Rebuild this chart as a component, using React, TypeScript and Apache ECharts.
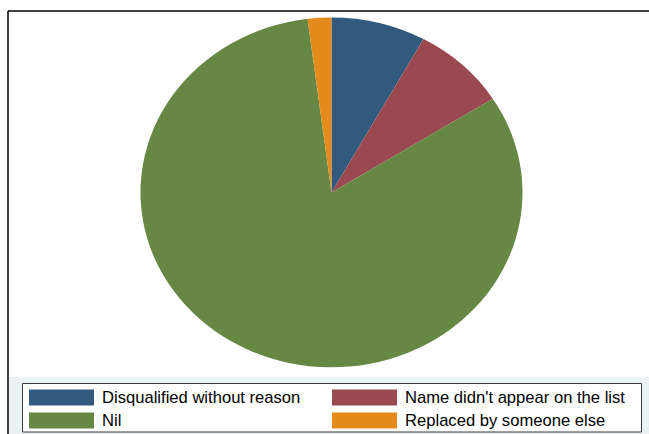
import React, { useEffect, useRef } from "react";
import * as echarts from "echarts";

const categories = [
  "Disqualified without reason",
  "Name didn't appear on the list",
  "Nil",
  "Replaced by someone else",
];
const values = [8, 8, 82, 2];
const colors = ["#315a7e", "#9a4950", "#678844", "#e58b1c"];

const CX = 331.5;
const CY = 192.4;
const RX = 191;
const RY = 175;

export default function App() {
  const ref = useRef<HTMLDivElement>(null);
  useEffect(() => {
    const chart = echarts.init(ref.current!, null, { renderer: "svg" });
    const total = values.reduce((a, b) => a + b, 0);
    let cum = 0;
    const series = categories.map((name, i) => {
      const start = cum;
      cum += values[i];
      return {
        type: "custom",
        name,
        coordinateSystem: "none",
        itemStyle: { color: colors[i] },
        data: [[start, values[i]]],
        renderItem: (params: any, api: any) => {
          const s = api.value(0);
          const v = api.value(1);
          const a0 = -Math.PI / 2 + (2 * Math.PI * s) / total;
          const a1 = -Math.PI / 2 + (2 * Math.PI * (s + v)) / total;
          return {
            type: "sector",
            x: CX,
            y: CY,
            scaleX: 1,
            scaleY: RY / RX,
            shape: { cx: 0, cy: 0, r0: 0, r: RX, startAngle: a0, endAngle: a1, clockwise: true },
            style: { fill: colors[i] },
          };
        },
      };
    });
    const legendCommon = {
      orient: "vertical",
      top: 389,
      height: 45,
      padding: 0,
      itemWidth: 65,
      itemHeight: 16,
      itemGap: 6,
      icon: "rect",
      selectedMode: false,
      textStyle: {
        fontSize: 16.6,
        color: "#000",
        fontFamily: "Liberation Sans, Arial, sans-serif",
        padding: [0, 0, 0, 3],
      },
    };
    chart.setOption({
      animation: false,
      backgroundColor: "#ffffff",
      graphic: [
        { type: "rect", z: 0, shape: { x: 9, y: 377, width: 640, height: 57 }, style: { fill: "#eaf1f3" } },
        { type: "rect", z: 1, shape: { x: 22.5, y: 383.5, width: 619, height: 48.5 }, style: { fill: "#ffffff", stroke: "#3a3a3a", lineWidth: 1 } },
        { type: "line", z: 1, shape: { x1: 8, y1: 11, x2: 649, y2: 11 }, style: { stroke: "#000", lineWidth: 1.5 } },
        { type: "line", z: 1, shape: { x1: 8, y1: 11, x2: 8, y2: 434 }, style: { stroke: "#000", lineWidth: 1.5 } },
      ],
      legend: [
        { ...legendCommon, left: 29, data: [categories[0], categories[2]] },
        { ...legendCommon, left: 332, data: [categories[1], categories[3]] },
      ],
      series,
    } as any);
    return () => chart.dispose();
  }, []);
  return (
    <div
      ref={ref}
      style={{ position: "absolute", left: 0, top: 0, width: 649, height: 434 }}
    />
  );
}
